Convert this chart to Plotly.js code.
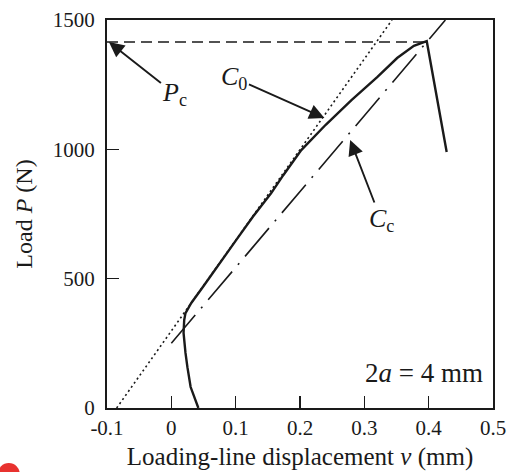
<!DOCTYPE html>
<html>
<head>
<meta charset="utf-8">
<script src="https://cdn.plot.ly/plotly-3.0.1.min.js"></script>
<style>
  html, body { margin: 0; padding: 0; background: #fff; }
  #chart { width: 507px; height: 472px; }
</style>
</head>
<body>
<div id="chart"></div>
<script>
// Measured load-displacement record (v in mm, P in N)
const dispV = [0.042, 0.036, 0.030, 0.025, 0.022, 0.019, 0.020, 0.022, 0.031, 0.049,
               0.076, 0.101, 0.127, 0.155, 0.174, 0.202, 0.240, 0.280, 0.320, 0.351,
               0.377, 0.397, 0.428];
const loadP = [0, 40, 81, 158, 213, 290, 340, 367, 406, 468,
               560, 650, 740, 830, 900, 997, 1095, 1190, 1279, 1353,
               1400, 1418, 990];

// Initial compliance line C0
const c0V = [-0.085, 0.343];
const c0P = [0, 1500];

// Critical compliance line Cc
const ccV = [0.0, 0.426];
const ccP = [250, 1500];

// Critical load Pc
const pcLevel = 1415;
const pcV = [-0.1, 0.40];
const pcP = [pcLevel, pcLevel];

// Axis ticks
const xTicks = [-0.1, 0, 0.1, 0.2, 0.3, 0.4, 0.5];
const xTickText = ['-0.1', '0', '0.1', '0.2', '0.3', '0.4', '0.5'];
const yTicks = [0, 500, 1000, 1500];
const yTickText = ['0', '500', '1000', '1500'];

const ink = '#1a1a1a';
const serif = 'Liberation Serif, Times New Roman, serif';

const traces = [
  { x: pcV, y: pcP, mode: 'lines', line: { color: ink, width: 1.6, dash: '11px,6px' }, hoverinfo: 'skip' },
  { x: c0V, y: c0P, mode: 'lines', line: { color: ink, width: 1.6, dash: '2px,3px' }, hoverinfo: 'skip' },
  { x: ccV, y: ccP, mode: 'lines', line: { color: ink, width: 1.6, dash: '37px,9px,2px,9px' }, hoverinfo: 'skip' },
  { x: dispV, y: loadP, mode: 'lines', line: { color: ink, width: 2.4 }, hoverinfo: 'skip' }
];

const axisCommon = {
  showgrid: false, zeroline: false,
  showline: true, mirror: true, linecolor: ink, linewidth: 2,
  ticks: 'inside', ticklen: 12, tickwidth: 1.5, tickcolor: ink,
  tickfont: { family: serif, size: 21, color: ink },
  ticklabeloverflow: 'allow',
  tickmode: 'array'
};

const layout = {
  width: 507, height: 472,
  margin: { l: 107, r: 14, t: 20, b: 64 },
  paper_bgcolor: '#fff', plot_bgcolor: '#fff',
  showlegend: false,
  xaxis: Object.assign({}, axisCommon, {
    range: [-0.1, 0.5], tickvals: xTicks, ticktext: xTickText,
    ticklabelstandoff: 0,
    title: { text: 'Loading-line displacement <i>v</i> (mm)', font: { family: serif, size: 25, color: ink }, standoff: 8 }
  }),
  yaxis: Object.assign({}, axisCommon, {
    range: [0, 1500], tickvals: yTicks, ticktext: yTickText,
    ticklabelstandoff: 6,
    title: { text: 'Load <i>P</i> (N)', font: { family: serif, size: 24, color: ink }, standoff: 13 }
  }),
  annotations: [
    { x: -0.097, y: pcLevel, xref: 'x', yref: 'y', text: '<i>P</i><sub>c</sub>',
      showarrow: true, arrowhead: 2, arrowsize: 1.6, arrowwidth: 1.9, arrowcolor: ink,
      ax: 66, ay: 52, font: { family: serif, size: 26, color: ink } },
    { x: 0.238, y: 1121, xref: 'x', yref: 'y', text: '<i>C</i><sub>0</sub>',
      showarrow: true, arrowhead: 2, arrowsize: 1.6, arrowwidth: 1.9, arrowcolor: ink,
      ax: -90, ay: -40, font: { family: serif, size: 26, color: ink } },
    { x: 0.278, y: 1036, xref: 'x', yref: 'y', text: '<i>C</i><sub>c</sub>',
      showarrow: true, arrowhead: 2, arrowsize: 1.6, arrowwidth: 1.9, arrowcolor: ink,
      ax: 31, ay: 80, font: { family: serif, size: 26, color: ink } },
    { x: 0.487, y: 135, xref: 'x', yref: 'y', text: '2<i>a</i> = 4 mm',
      showarrow: false, xanchor: 'right', yanchor: 'middle',
      font: { family: serif, size: 27, color: ink } }
  ],
  shapes: [
    { type: 'circle', xref: 'paper', yref: 'paper', layer: 'above',
      x0: -0.2829, x1: -0.2259, y0: -0.1985, y1: -0.1418,
      fillcolor: '#e8322f', line: { width: 0 } }
  ]
};

Plotly.newPlot('chart', traces, layout, { staticPlot: true, displayModeBar: false });
</script>
</body>
</html>
